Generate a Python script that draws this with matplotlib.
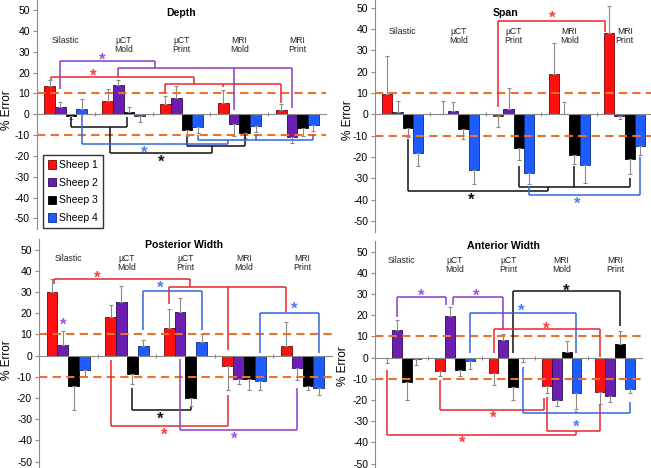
import matplotlib
matplotlib.use('Agg')
import matplotlib.pyplot as plt
import numpy as np

plt.rcParams['font.family'] = ['Liberation Sans', 'DejaVu Sans']
plt.rcParams['axes.unicode_minus'] = False

# ---------------- data ----------------
categories = ['Silastic', 'µCT\nMold', 'µCT\nPrint', 'MRI\nMold', 'MRI\nPrint']
sheep = ['Sheep 1', 'Sheep 2', 'Sheep 3', 'Sheep 4']

depth_s1 = [13.6, 6.2, 5.0, 5.4, 1.9]
depth_s2 = [3.4, 14.0, 8.0, -4.6, -11.0]
depth_s3 = [-0.6, 1.1, -7.5, -8.8, -6.4]
depth_s4 = [2.6, -1.0, -6.2, -5.6, -5.1]
depth_e1 = [3.0, 5.8, 4.0, 6.2, 3.0]
depth_e2 = [2.7, 2.5, 5.6, 6.0, 2.6]
depth_e3 = [1.5, 2.3, 3.0, 2.4, 4.0]
depth_e4 = [4.6, 2.8, 2.8, 2.7, 2.9]

span_s1 = [9.4, 0.3, -0.6, 18.7, 38.1]
span_s2 = [0.9, 1.7, 2.7, 0.3, -0.6]
span_s3 = [-6.3, -7.0, -15.6, -18.9, -20.9]
span_s4 = [-18.3, -26.0, -27.5, -23.6, -14.7]
span_e1 = [18.0, 6.0, 5.2, 14.6, 12.7]
span_e2 = [5.5, 4.2, 9.5, 5.3, 1.7]
span_e3 = [4.2, 4.5, 6.0, 4.4, 7.2]
span_e4 = [5.8, 6.7, 5.2, 8.7, 4.3]

post_s1 = [29.9, 18.1, 12.9, -4.7, 4.4]
post_s2 = [5.0, 25.4, 20.6, -11.0, -6.0]
post_s3 = [-14.5, -8.5, -20.0, -11.2, -14.2]
post_s4 = [-6.6, 4.6, 6.6, -12.1, -15.4]
post_e1 = [6.3, 6.0, 9.1, 11.5, 11.5]
post_e2 = [6.6, 7.7, 6.6, 2.4, 5.3]
post_e3 = [11.2, 4.9, 3.6, 5.0, 2.2]
post_e4 = [3.3, 2.6, 3.6, 4.3, 3.2]

ant_s1 = [-0.3, -6.3, -7.4, -13.2, -16.2]
ant_s2 = [13.1, 19.5, 8.3, -20.0, -18.0]
ant_s3 = [-11.7, -6.0, -13.9, 2.7, 6.3]
ant_s4 = [-0.8, -1.4, -0.2, -16.7, -14.6]
ant_e1 = [2.4, 2.4, 5.7, 3.7, 5.7]
ant_e2 = [4.7, 4.3, 2.7, 2.8, 2.8]
ant_e3 = [8.3, 2.5, 6.1, 5.3, 6.5]
ant_e4 = [2.7, 4.1, 1.8, 7.6, 2.3]

threshold = 10

# ---------------- styling ----------------
bar_colors = ['#FF1010', '#6A1FB0', '#000000', '#1E5CFF']
bar_edges = ['#7A0000', '#2E0A55', '#000000', '#0A2A80']
br_col = {'r': '#E8262B', 'p': '#8C3CC8', 'k': '#111111', 'b': '#3366DD'}
st_col = {'r': '#FF3A3A', 'p': '#9B55DD', 'k': '#111111', 'b': '#4F7FEE'}

W = 0.185


def bx(g, j, d=0.0):
    return g + (j - 1.5) * W + d


fig = plt.figure(figsize=(6.51, 4.68), dpi=100)

panels = [
    dict(title='Depth', vals=[depth_s1, depth_s2, depth_s3, depth_s4],
         errs=[depth_e1, depth_e2, depth_e3, depth_e4],
         rect=[0.0564, 0.5109, 0.4449, 0.4897], title_xy=(2.0, 48.5), lab_y=35.2,
         ylab=(-0.082, 0.519), legend=True,
         brackets=[
             ('p', 25.6, [(bx(0, 1), 12), (1.55, 22.1)]),
             ('p', 22.1, [(bx(1, 1), 17.8), (bx(3, 1), 2), (bx(4, 1), 3)]),
             ('r', 17.8, [(bx(0, 0, 0.02), 16.5), (2.22, 14.4)]),
             ('r', 14.4, [(bx(2, 0), 10.1), (bx(3, 0), 13), (bx(4, 0), 5.3)]),
             ('k', -6.0, [(bx(0, 2), -1.1), (bx(1, 2, -0.03), -1.1)]),
             ('k', -18.4, [(0.77, -6.0), (2.53, -15.3)]),
             ('k', -15.3, [(bx(2, 2), -10.7), (bx(3, 2), -9.5)]),
             ('b', -14.2, [(bx(0, 3), 0.3), (2.81, -12.4)]),
             ('b', -12.4, [(bx(2, 3), -9.9), (bx(3, 3), -9.9), (bx(4, 3), -9.9)]),
         ],
         stars=[('p', 0.63, 27.7), ('r', 0.48, 20.2), ('k', 1.64, -21.1), ('b', 1.35, -16.6)]),
    dict(title='Span', vals=[span_s1, span_s2, span_s3, span_s4],
         errs=[span_e1, span_e2, span_e3, span_e4],
         rect=[0.576, 0.505, 0.4263, 0.5015], title_xy=(1.86, 47.7), lab_y=38.3,
         ylab=(-0.075, 0.476), legend=False,
         brackets=[
             ('r', 43.75, [(bx(2, 0), 3.3), (bx(4, 0, -0.08), 38.4)]),
             ('k', -35.9, [(bx(0, 2), -11.7), (2.61, -33.9)]),
             ('k', -33.9, [(bx(2, 2), -24), (bx(3, 2), -24), (bx(4, 2), -30)]),
             ('b', -37.8, [(bx(2, 3), -33.5), (bx(4, 3), -19.8)]),
         ],
         stars=[('r', 2.7, 47.0), ('k', 1.24, -38.2), ('b', 3.15, -40.3)]),
    dict(title='Posterior Width', vals=[post_s1, post_s2, post_s3, post_s4],
         errs=[post_e1, post_e2, post_e3, post_e4],
         rect=[0.0599, -0.0088, 0.45, 0.4977], title_xy=(1.97, 52.3), lab_y=45.5,
         ylab=(-0.09, 0.481), legend=False,
         brackets=[
             ('r', 36.1, [(bx(0, 0, 0.04), 34), (2.07, 32.6)]),
             ('r', 32.6, [(bx(2, 0), 24.4), (bx(3, 0), 2.7), (bx(4, 0), 20.8)]),
             ('r', -33.2, [(bx(1, 0), -2), (bx(3, 0), -18.6)]),
             ('b', 30.5, [(bx(1, 3), 12.1), (bx(2, 3), 12.1)]),
             ('b', 20.3, [(bx(3, 3), 1.1), (bx(4, 3), 1.1)]),
             ('k', -25.7, [(bx(1, 2), -15.4), (bx(2, 2), -24.1)]),
             ('p', -35.1, [(bx(2, 1), -1.7), (bx(4, 1), -15.4)]),
         ],
         stars=[('r', 0.49, 38.4), ('r', 1.64, -35.6), ('b', 1.57, 33.7), ('b', 3.85, 23.9),
                ('p', -0.08, 16.4), ('k', 1.57, -28.0), ('p', 2.83, -37.5)]),
    dict(title='Anterior Width', vals=[ant_s1, ant_s2, ant_s3, ant_s4],
         errs=[ant_e1, ant_e2, ant_e3, ant_e4],
         rect=[0.576, -0.0131, 0.4097, 0.4977], title_xy=(1.9, 52.8), lab_y=45.4,
         ylab=(-0.097, 0.465), legend=False,
         brackets=[
             ('p', 28.8, [(bx(0, 1), 19), (bx(1, 1, -0.08), 24.9)]),
             ('p', 28.8, [(bx(1, 1, 0.06), 24.9), (bx(2, 1), 13.4)]),
             ('k', 31.5, [(bx(2, 2), 2), (bx(4, 2), 15.1)]),
             ('b', 20.9, [(bx(1, 3), 2), (bx(3, 3), 2)]),
             ('r', 13.5, [(bx(2, 0), 2), (bx(4, 0), 0.5)]),
             ('r', -24.7, [(bx(1, 0), -10.6), (bx(3, 0, -0.05), -19.2)]),
             ('r', -36.5, [(bx(0, 0), -5.8), (3.26, -34.6)]),
             ('r', -34.6, [(bx(3, 0), -18.4), (bx(4, 0), -22.4)]),
             ('b', -26.3, [(bx(2, 3), -4.3), (bx(3, 3), -25), (bx(4, 3), -20.8)]),
         ],
         stars=[('p', 0.36, 31.2), ('p', 1.39, 31.2), ('k', 3.08, 33.5), ('b', 2.25, 23.8),
                ('r', 2.71, 15.4), ('r', 1.71, -26.6), ('r', 1.14, -38.6), ('b', 3.28, -30.7)]),
]

LW_BR = 1.1
STAR_DROP = 2.0
for p in panels:
    ax = fig.add_axes(p['rect'])
    ax.set_xlim(-0.5, 4.5)
    ax.set_ylim(-55, 55)
    x = np.arange(len(categories))
    handles = []
    for j in range(4):
        v = np.array(p['vals'][j])
        e = np.array(p['errs'][j])
        xs = x + (j - 1.5) * W
        h = ax.bar(xs, v, width=W, color=bar_colors[j], edgecolor=bar_edges[j],
                   linewidth=0.6, label=sheep[j], zorder=2)
        handles.append(h)
        lower = np.where(v < 0, e, 0)
        upper = np.where(v >= 0, e, 0)
        ax.errorbar(xs, v, yerr=[lower, upper], fmt='none', ecolor='#8a8a8a',
                    elinewidth=0.8, capsize=1.3, capthick=0.8, zorder=3)
    for t in (threshold, -threshold):
        ax.axhline(t, color='#E8732E', lw=1.5, ls=(0, (4, 2.5)), zorder=4)
    for c, lvl, legs in p['brackets']:
        xsb = [a for a, _ in legs]
        ax.hlines(lvl, min(xsb), max(xsb), color=br_col[c], lw=LW_BR, zorder=5)
        for a, yend in legs:
            ax.vlines(a, min(lvl, yend), max(lvl, yend), color=br_col[c], lw=LW_BR, zorder=5)
    for c, sx, sy in p['stars']:
        ax.text(sx, sy - STAR_DROP, '*', color=st_col[c], fontsize=12, ha='center',
                va='center', fontweight='bold', zorder=6)
    for i, cat in enumerate(categories):
        ax.text(i, p['lab_y'] + 2.4, cat, ha='center', va='top', fontsize=6.2,
                color='#222222', linespacing=1.0, multialignment='center')
    ax.text(p['title_xy'][0], p['title_xy'][1], p['title'], ha='center', va='center',
            fontsize=7.6, fontweight='bold')
    for s in ('top', 'right'):
        ax.spines[s].set_visible(False)
    ax.spines['bottom'].set_position(('data', 0))
    ax.spines['bottom'].set_color('#8a8a8a')
    ax.spines['bottom'].set_linewidth(0.8)
    ax.spines['left'].set_color('#8a8a8a')
    ax.spines['left'].set_linewidth(0.8)
    ax.set_yticks(np.arange(-50, 51, 10))
    ax.set_xticks(np.arange(0.5, 4.0, 1.0))
    ax.tick_params(axis='x', direction='inout', length=3, color='#8a8a8a', labelbottom=False)
    ax.tick_params(axis='y', direction='out', length=3, color='#8a8a8a', labelsize=7.5, pad=2)
    ax.set_ylabel('% Error', fontsize=8.5)
    ax.yaxis.set_label_coords(*p['ylab'])
    ax.patch.set_alpha(0)
    if p['legend']:
        leg = ax.legend(handles=handles, loc='lower left', bbox_to_anchor=(0.022, 0.004),
                        borderaxespad=0, fontsize=7.5, frameon=True, fancybox=False,
                        edgecolor='black', handlelength=0.8, handleheight=0.9,
                        handletextpad=0.3, labelspacing=0.75, borderpad=0.45)
        leg.get_frame().set_linewidth(1.0)
        leg.set_zorder(7)

fig.savefig('out.png', dpi=100)
